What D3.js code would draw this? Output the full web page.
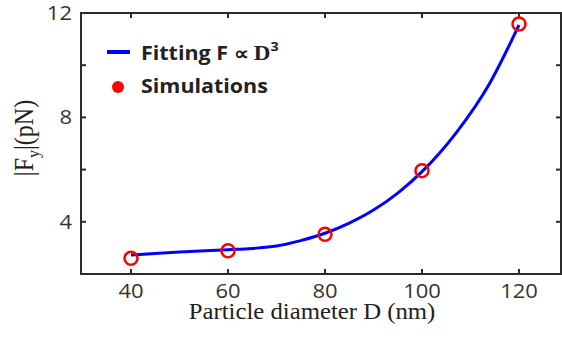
<!DOCTYPE html>
<html>
<head>
<meta charset="utf-8">
<script src="https://cdn.jsdelivr.net/npm/d3@7"></script>
<style>
  html, body { margin: 0; padding: 0; background: #fff; }
  svg { display: block; }
</style>
</head>
<body>
<div id="chart"></div>
<script>
// simulation results
const simD = [40, 60, 80, 100, 120];
const simF = [2.60, 2.89, 3.52, 5.96, 11.58];

// fitted curve
const fitD = [40, 50, 60, 65, 70, 75, 80, 85, 90, 95, 100, 107, 114, 120];
const fitF = [2.73, 2.84, 2.93, 2.98, 3.07, 3.28, 3.56, 3.95, 4.45, 5.10, 5.92, 7.40, 9.32, 11.54];

const xTicks = [40, 60, 80, 100, 120];
const yTicks = [2, 4, 6, 8, 10, 12];
const yLabels = [4, 8, 12];

const width = 562, height = 338;
const plotL = 81, plotR = 561, plotT = 13, plotB = 274;
const stretch = 1.1; // the original figure is a bit wider than tall

const svg = d3.select('#chart').append('svg')
  .attr('width', width)
  .attr('height', height);

const x = d3.scaleLinear().domain([30, 130]).range([82.5, 567.5]);
const y = d3.scaleLinear().domain([2, 12]).range([plotB, plotT]);

const axisColor = '#2b2b2b';
const tickLen = 5;

function place(sel, px, py) {
  return sel.attr('transform', `translate(${px},${py}) scale(${stretch},1)`);
}

// frame
svg.append('rect')
  .attr('x', plotL).attr('y', plotT)
  .attr('width', plotR - plotL).attr('height', plotB - plotT)
  .attr('fill', 'none')
  .attr('stroke', axisColor)
  .attr('stroke-width', 2);

// x ticks (bottom + top, inward)
const xt = svg.append('g').attr('class', 'x-ticks');
xTicks.forEach(t => {
  xt.append('line')
    .attr('x1', x(t)).attr('x2', x(t))
    .attr('y1', plotB).attr('y2', plotB - tickLen)
    .attr('stroke', axisColor).attr('stroke-width', 2);
  xt.append('line')
    .attr('x1', x(t)).attr('x2', x(t))
    .attr('y1', plotT).attr('y2', plotT + tickLen)
    .attr('stroke', axisColor).attr('stroke-width', 2);
  place(xt.append('text'), x(t), plotB + 24)
    .attr('text-anchor', 'middle')
    .attr('font-family', 'Open Sans, sans-serif')
    .attr('font-size', 20)
    .attr('fill', '#333')
    .text(t);
});

// y ticks (left + right, inward)
const yt = svg.append('g').attr('class', 'y-ticks');
yTicks.forEach(t => {
  yt.append('line')
    .attr('x1', plotL).attr('x2', plotL + tickLen)
    .attr('y1', y(t)).attr('y2', y(t))
    .attr('stroke', axisColor).attr('stroke-width', 2);
  yt.append('line')
    .attr('x1', plotR).attr('x2', plotR - tickLen)
    .attr('y1', y(t)).attr('y2', y(t))
    .attr('stroke', axisColor).attr('stroke-width', 2);
});
yLabels.forEach(t => {
  place(yt.append('text'), plotL - 9, y(t) + 7)
    .attr('text-anchor', 'end')
    .attr('font-family', 'Open Sans, sans-serif')
    .attr('font-size', 20)
    .attr('fill', '#333')
    .text(t);
});

// fitted line
const fitData = fitD.map((d, i) => ({ d, f: fitF[i] }));
svg.append('path')
  .datum(fitData)
  .attr('fill', 'none')
  .attr('stroke', '#0000ff')
  .attr('stroke-width', 3)
  .attr('d', d3.line().x(p => x(p.d)).y(p => y(p.f)).curve(d3.curveMonotoneX));

// simulation markers
svg.append('g').selectAll('circle')
  .data(simD.map((d, i) => ({ d, f: simF[i] })))
  .enter()
  .append('circle')
  .attr('cx', p => x(p.d))
  .attr('cy', p => y(p.f))
  .attr('r', 6.5)
  .attr('fill', 'none')
  .attr('stroke', '#ff0000')
  .attr('stroke-width', 2.5);

// legend
const lg = svg.append('g').attr('class', 'legend');
lg.append('line')
  .attr('x1', 107).attr('x2', 130)
  .attr('y1', 52).attr('y2', 52)
  .attr('stroke', '#0000ff').attr('stroke-width', 4);
const t1 = place(lg.append('text'), 141, 60)
  .attr('font-family', 'Open Sans, sans-serif')
  .attr('font-weight', 'bold')
  .attr('font-size', 19.5)
  .attr('fill', '#222');
t1.append('tspan').text('Fitting F \u221D ');
t1.append('tspan').attr('font-family', 'Liberation Serif, serif').attr('font-size', 21).text('D');
t1.append('tspan').attr('font-size', 13).attr('dy', -9).text('3');

lg.append('circle')
  .attr('cx', 118).attr('cy', 87).attr('r', 6)
  .attr('fill', '#ff0000');
place(lg.append('text'), 141, 93)
  .attr('font-family', 'Open Sans, sans-serif')
  .attr('font-weight', 'bold')
  .attr('font-size', 19.5)
  .attr('fill', '#222')
  .text('Simulations');

// axis titles
place(svg.append('text'), 312, 319)
  .attr('text-anchor', 'middle')
  .attr('font-family', 'Liberation Serif, serif')
  .attr('font-size', 22.5)
  .attr('fill', '#222')
  .text('Particle diameter D (nm)');

const yl = svg.append('text')
  .attr('transform', `translate(33,138) rotate(-90) scale(1,${stretch})`)
  .attr('text-anchor', 'middle')
  .attr('font-family', 'Liberation Serif, serif')
  .attr('font-size', 24)
  .attr('fill', '#222');
yl.append('tspan').text('|F');
yl.append('tspan').attr('font-size', 16).attr('dy', 5).text('y');
yl.append('tspan').attr('dy', -5).text('|(pN)');
</script>
</body>
</html>
